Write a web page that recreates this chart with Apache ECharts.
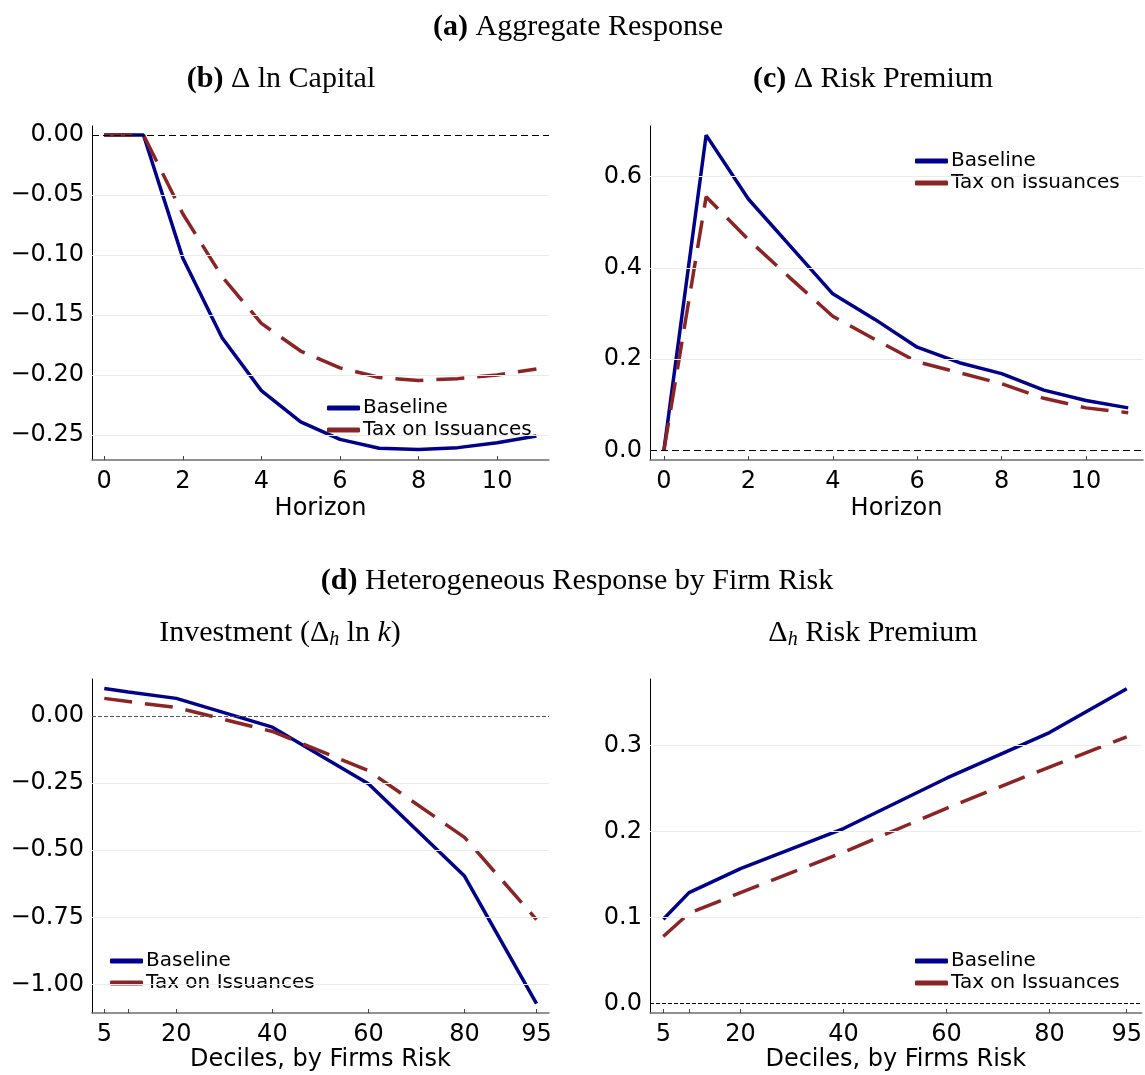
<!DOCTYPE html>
<html><head><meta charset="utf-8">
<script src="https://cdn.jsdelivr.net/npm/echarts@6/dist/echarts.min.js"></script>
<style>html,body{margin:0;padding:0;background:#fff}#c{width:1145px;height:1075px}</style>
</head><body><div id="c"></div>
<script>
const horizon = [0,1,2,3,4,5,6,7,8,9,10,11];
const capBase = [0, 0, -0.1025, -0.169, -0.213, -0.239, -0.2536, -0.261, -0.262, -0.2605, -0.2564, -0.2508];
const capTax  = [0, 0, -0.0656, -0.118, -0.157, -0.180, -0.194, -0.202, -0.2045, -0.203, -0.200, -0.195];
const rpBase  = [0, 0.691, 0.551, 0.447, 0.343, 0.287, 0.226, 0.192, 0.168, 0.132, 0.109, 0.093];
const rpTax   = [0, 0.556, 0.462, 0.377, 0.294, 0.243, 0.194, 0.170, 0.146, 0.114, 0.093, 0.0825];
const deciles = [5, 10, 20, 40, 60, 80, 95];
const invBase = [0.102, 0.089, 0.065, -0.042, -0.253, -0.596, -1.071];
const invTax  = [0.065, 0.053, 0.031, -0.058, -0.204, -0.452, -0.758];
const rpdBase = [0.098, 0.129, 0.157, 0.2035, 0.262, 0.315, 0.366];
const rpdTax  = [0.078, 0.105, 0.129, 0.176, 0.227, 0.275, 0.310];

const hTicks = [0, 2, 4, 6, 8, 10];
const dTicks = [5, 10, 20, 40, 60, 80, 95];
const dLabels = [5, 20, 40, 60, 80, 95];
const capTicks = [0, -0.05, -0.10, -0.15, -0.20, -0.25];
const rpTicks = [0, 0.2, 0.4, 0.6];
const invTicks = [0, -0.25, -0.5, -0.75, -1.0];
const rpdTicks = [0, 0.1, 0.2, 0.3];
const names = ['Baseline', 'Tax on Issuances'];

const SERIF = '"Liberation Serif", "DejaVu Serif", serif';
const SANS = '"DejaVu Sans", sans-serif';
const BLUE = '#00008b';
const RED = '#8b2525';
const TFS = 30;

function fmt(dec) {
  return v => (v < -1e-9 ? '\u2212' : '') + Math.abs(v).toFixed(dec);
}

function xAxis(grid, min, max, ticks, labels, name, gap) {
  return {
    type: 'value', gridIndex: grid, min, max,
    name, nameLocation: 'middle', nameGap: gap,
    nameTextStyle: {fontFamily: SANS, fontSize: 24, color: '#000'},
    axisLine: {show: true, onZero: false, lineStyle: {color: '#6e6e6e', width: 1.5}},
    axisTick: {show: true, inside: true, length: 4, customValues: ticks, lineStyle: {color: '#444', width: 1}},
    axisLabel: {show: true, customValues: labels, margin: 10, fontFamily: SANS, fontSize: 24, color: '#000'},
    splitLine: {show: false}
  };
}
function yAxis(grid, min, max, ticks, dec) {
  return {
    type: 'value', gridIndex: grid, min, max,
    axisLine: {show: true, onZero: false, lineStyle: {color: '#000', width: 1}},
    axisTick: {show: true, inside: true, length: 4, customValues: ticks, lineStyle: {color: '#444', width: 1}},
    axisLabel: {show: true, customValues: ticks, margin: 8, fontFamily: SANS, fontSize: 24, color: '#000', formatter: fmt(dec)},
    splitLine: {show: false}
  };
}
function pairs(xs, ys) { return xs.map((x, i) => [x, ys[i]]); }
function lineSeries(name, idx, xs, ys, dashed) {
  return {
    type: 'line', name, xAxisIndex: idx, yAxisIndex: idx,
    data: pairs(xs, ys), symbol: 'none', z: 3,
    lineStyle: {color: dashed ? RED : BLUE, width: 3.5, type: dashed ? [28, 13] : 'solid'},
    itemStyle: {color: dashed ? RED : BLUE},
    emphasis: {disabled: true}
  };
}
function gridSeries(idx, ticks, zeroColor, zeroDash) {
  const data = ticks.filter(t => Math.abs(t) > 1e-9).map(t => ({yAxis: t, lineStyle: {color: '#ebebeb', width: 1, type: 'solid'}}));
  data.push({yAxis: 0, lineStyle: {color: zeroColor, width: 1, type: zeroDash}});
  return {
    type: 'line', name: 'grid' + idx, xAxisIndex: idx, yAxisIndex: idx, data: [], z: 1,
    markLine: {silent: true, symbol: ['none', 'none'], label: {show: false}, animation: false, data}
  };
}
function legend(left, top) {
  return {
    data: names, orient: 'vertical', left, top, padding: 0, itemGap: 2,
    itemWidth: 33, itemHeight: 5, icon: 'roundRect', selectedMode: false,
    textStyle: {fontFamily: SANS, fontSize: 20, color: '#000', lineHeight: 20, padding: [0, 0, 0, -2]}
  };
}
function title(rich, x, y) {
  const base = {fontFamily: SERIF, fontSize: TFS, color: '#000', lineHeight: 34};
  return {
    text: rich, left: x, top: y, textAlign: 'center', padding: 0,
    textStyle: Object.assign({}, base, {
      fontWeight: 'normal',
      rich: {
        b: Object.assign({}, base, {fontWeight: 'bold'}),
        n: Object.assign({}, base),
        s: {fontFamily: SERIF, fontSize: 20, fontStyle: 'italic', color: '#000', lineHeight: 20, verticalAlign: 'bottom'},
        i: Object.assign({}, base, {fontStyle: 'italic'})
      }
    })
  };
}

const chart = echarts.init(document.getElementById('c'), null, {renderer: 'canvas'});
chart.setOption({
  animation: false,
  backgroundColor: '#fff',
  title: [
    title('{b|(a)}{n| Aggregate Response}', 578, 10),
    title('{b|(b)}{n| \u0394 ln Capital}', 281, 62),
    title('{b|(c)}{n| \u0394 Risk Premium}', 873, 62),
    title('{b|(d)}{n| Heterogeneous Response by Firm Risk}', 577, 564),
    title('{n|Investment (\u0394}{s|h}{n| ln }{i|k}{n|)}', 280, 616),
    title('{n|\u0394}{s|h}{n| Risk Premium}', 873, 616)
  ],
  legend: [legend(327, 398), legend(915, 151), legend(110, 951), legend(915, 951)],
  grid: [
    {left: 92, top: 126, width: 457, height: 334},
    {left: 650, top: 126, width: 493, height: 334},
    {left: 92, top: 679, width: 457, height: 334},
    {left: 650, top: 679, width: 493, height: 334}
  ],
  xAxis: [
    xAxis(0, -0.31, 11.32, hTicks, hTicks, 'Horizon', 37),
    xAxis(1, -0.33, 11.35, hTicks, hTicks, 'Horizon', 37),
    xAxis(2, 2.44, 97.6, dTicks, dLabels, 'Deciles, by Firms Risk', 35),
    xAxis(3, 2.42, 97.9, dTicks, dLabels, 'Deciles, by Firms Risk', 35)
  ],
  yAxis: [
    yAxis(0, -0.2708, 0.0075, capTicks, 2),
    yAxis(1, -0.0213, 0.711, rpTicks, 1),
    yAxis(2, -1.1055, 0.1371, invTicks, 2),
    yAxis(3, -0.0109, 0.3773, rpdTicks, 1)
  ],
  series: [
    gridSeries(0, capTicks, '#000', [7, 4]),
    gridSeries(1, rpTicks, '#000', [7, 4]),
    gridSeries(2, invTicks, '#555', [4, 2]),
    gridSeries(3, rpdTicks, '#000', [4, 2]),
    lineSeries(names[0], 0, horizon, capBase, false),
    lineSeries(names[1], 0, horizon, capTax, true),
    lineSeries(names[0], 1, horizon, rpBase, false),
    lineSeries(names[1], 1, horizon, rpTax, true),
    lineSeries(names[0], 2, deciles, invBase, false),
    lineSeries(names[1], 2, deciles, invTax, true),
    lineSeries(names[0], 3, deciles, rpdBase, false),
    lineSeries(names[1], 3, deciles, rpdTax, true)
  ]
});
</script></body></html>
